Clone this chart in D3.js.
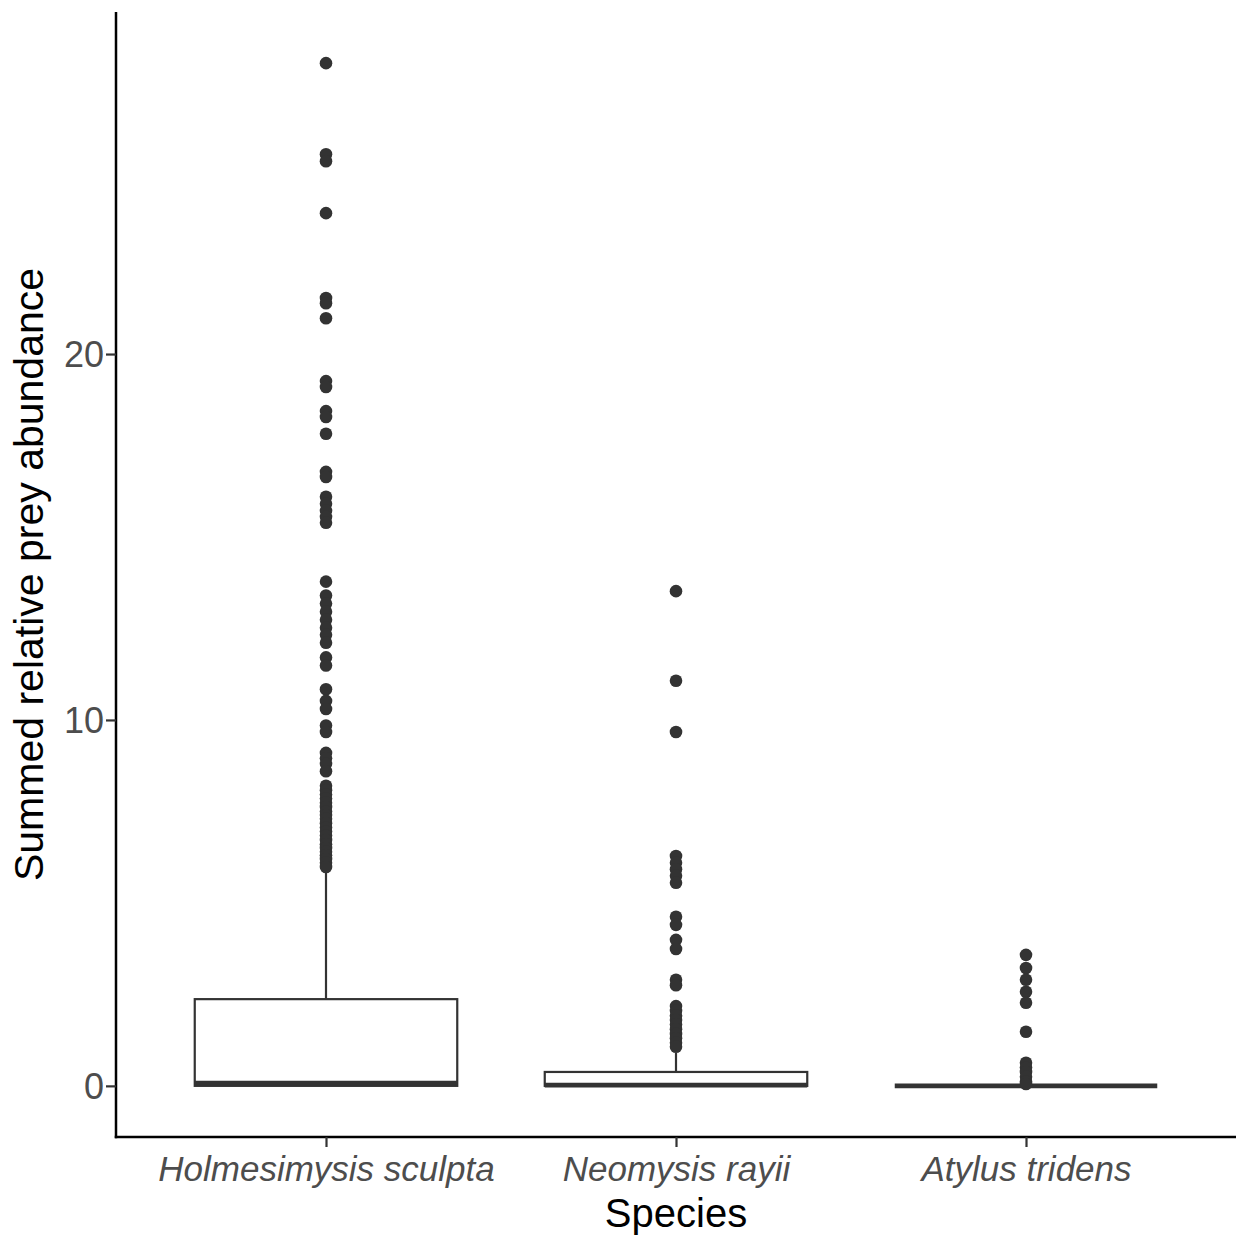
<!DOCTYPE html>
<html>
<head>
<meta charset="utf-8">
<script src="https://cdn.jsdelivr.net/npm/d3@7"></script>
<style>
  body { margin: 0; background: #fff; }
  svg text { font-family: "Liberation Sans", Arial, Helvetica, sans-serif; }
</style>
</head>
<body>
<div id="chart"></div>
<script>
// categories and box statistics
var species      = ['Holmesimysis sculpta', 'Neomysis rayii', 'Atylus tridens'];
var whiskerLow   = [0, 0, 0];
var q1Values     = [0, 0, 0];
var medianValues = [0.08, 0.02, 0];
var q3Values     = [2.37, 0.38, 0];
var whiskerHigh  = [5.93, 0.9, 0];

// outliers per species
var holmesOutliers = [27.95, 25.46, 25.27, 23.85, 21.53, 21.39, 20.98, 19.26, 19.1,
    18.44, 18.28, 17.82, 16.78, 16.64, 16.1, 15.91, 15.72, 15.55, 15.39, 13.78, 13.4,
    13.18, 12.96, 12.74, 12.52, 12.33, 12.11, 11.71, 11.49, 10.84, 10.52, 10.3, 9.85,
    9.67, 9.1, 8.95, 8.8, 8.6, 8.2, 8.08, 7.96, 7.85, 7.74, 7.62, 7.5, 7.4, 7.3, 7.18,
    7.06, 6.95, 6.84, 6.72, 6.6, 6.5, 6.4, 6.3, 6.2, 6.1, 5.98];
var neomysisOutliers = [13.52, 11.07, 9.67, 6.28, 6.1, 5.92, 5.74, 5.55, 4.62, 4.4,
    3.99, 3.74, 2.9, 2.75, 2.18, 2.05, 1.92, 1.8, 1.68, 1.55, 1.42, 1.3, 1.18, 1.07];
var atylusOutliers = [3.58, 3.22, 2.9, 2.57, 2.27, 1.48, 0.63, 0.5, 0.38, 0.25, 0.12, 0.05];
var outliers = [holmesOutliers, neomysisOutliers, atylusOutliers];

var yTicks = [0, 10, 20];
var xTitle = 'Species';
var yTitle = 'Summed relative prey abundance';

var W = 1236, H = 1236;
var panel = { left: 116, right: 1236, top: 12, bottom: 1137 };

var boxes = species.map(function(s, i) {
    return { name: s, lo: whiskerLow[i], q1: q1Values[i], med: medianValues[i],
             q3: q3Values[i], hi: whiskerHigh[i], out: outliers[i] };
});

// ggplot-like 5% expansion of the data range
var yMax = d3.max(boxes, function(b) { return d3.max(b.out.concat([b.hi])); });
var yMin = d3.min(boxes, function(b) { return b.lo; });
var pad = (yMax - yMin) * 0.05;

var yScale = d3.scaleLinear().domain([yMin - pad, yMax + pad])
    .range([panel.bottom, panel.top]);
var xScale = d3.scalePoint().domain(species)
    .range([panel.left, panel.right]).padding(0.6);
var boxW = xScale.step() * 0.75;

var svg = d3.select('#chart').append('svg')
    .attr('width', W).attr('height', H);

var ink = '#333333';

// boxes
var g = svg.append('g').selectAll('g').data(boxes).enter().append('g')
    .attr('transform', function(d) { return 'translate(' + xScale(d.name) + ',0)'; });

// whiskers
g.append('line')
    .attr('y1', function(d) { return yScale(d.q3); })
    .attr('y2', function(d) { return yScale(d.hi); })
    .attr('stroke', ink).attr('stroke-width', 2.2);
g.append('line')
    .attr('y1', function(d) { return yScale(d.q1); })
    .attr('y2', function(d) { return yScale(d.lo); })
    .attr('stroke', ink).attr('stroke-width', 2.2);

g.append('rect')
    .attr('x', -boxW / 2).attr('width', boxW)
    .attr('y', function(d) { return yScale(d.q3); })
    .attr('height', function(d) { return yScale(d.q1) - yScale(d.q3); })
    .attr('fill', 'white').attr('stroke', ink).attr('stroke-width', 2.2);

g.append('line')
    .attr('x1', -boxW / 2).attr('x2', boxW / 2)
    .attr('y1', function(d) { return yScale(d.med); })
    .attr('y2', function(d) { return yScale(d.med); })
    .attr('stroke', ink).attr('stroke-width', 4.6);

// outlier points
g.selectAll('circle').data(function(d) { return d.out; }).enter().append('circle')
    .attr('cx', 0)
    .attr('cy', function(v) { return yScale(v); })
    .attr('r', 6.3)
    .attr('fill', ink);

// axes
var yAxis = svg.append('g')
    .attr('transform', 'translate(' + panel.left + ',0)')
    .call(d3.axisLeft(yScale).tickValues(yTicks).tickSize(10).tickPadding(4).tickSizeOuter(0));
var xAxis = svg.append('g')
    .attr('transform', 'translate(0,' + panel.bottom + ')')
    .call(d3.axisBottom(xScale).tickSize(10).tickPadding(6).tickSizeOuter(0));

[xAxis, yAxis].forEach(function(ax) {
    ax.select('.domain').attr('stroke', 'black').attr('stroke-width', 2.5);
    ax.selectAll('.tick line').attr('stroke', ink).attr('stroke-width', 2.2);
    ax.selectAll('.tick text').attr('fill', '#4d4d4d')
        .style('font-size', '35px');
});
// the y axis line spans the panel only, x axis runs to the right edge
yAxis.select('.domain').attr('d', 'M0,' + panel.top + 'V' + (panel.bottom + 1.25));
xAxis.select('.domain').attr('d', 'M' + (panel.left - 1.25) + ',0H' + panel.right);
xAxis.selectAll('.tick text').style('font-style', 'italic').attr('y', 0).attr('dy', 44);
yAxis.selectAll('.tick text').attr('x', -12).attr('dy', '0.35em').style('font-size', '36px');

// titles
svg.append('text')
    .attr('x', (panel.left + panel.right) / 2).attr('y', 1227)
    .attr('text-anchor', 'middle').attr('fill', 'black')
    .style('font-size', '40px')
    .text(xTitle);
svg.append('text')
    .attr('transform', 'translate(43,' + ((panel.top + panel.bottom) / 2) + ') rotate(-90)')
    .attr('text-anchor', 'middle').attr('fill', 'black')
    .style('font-size', '41px')
    .text(yTitle);
</script>
</body>
</html>
